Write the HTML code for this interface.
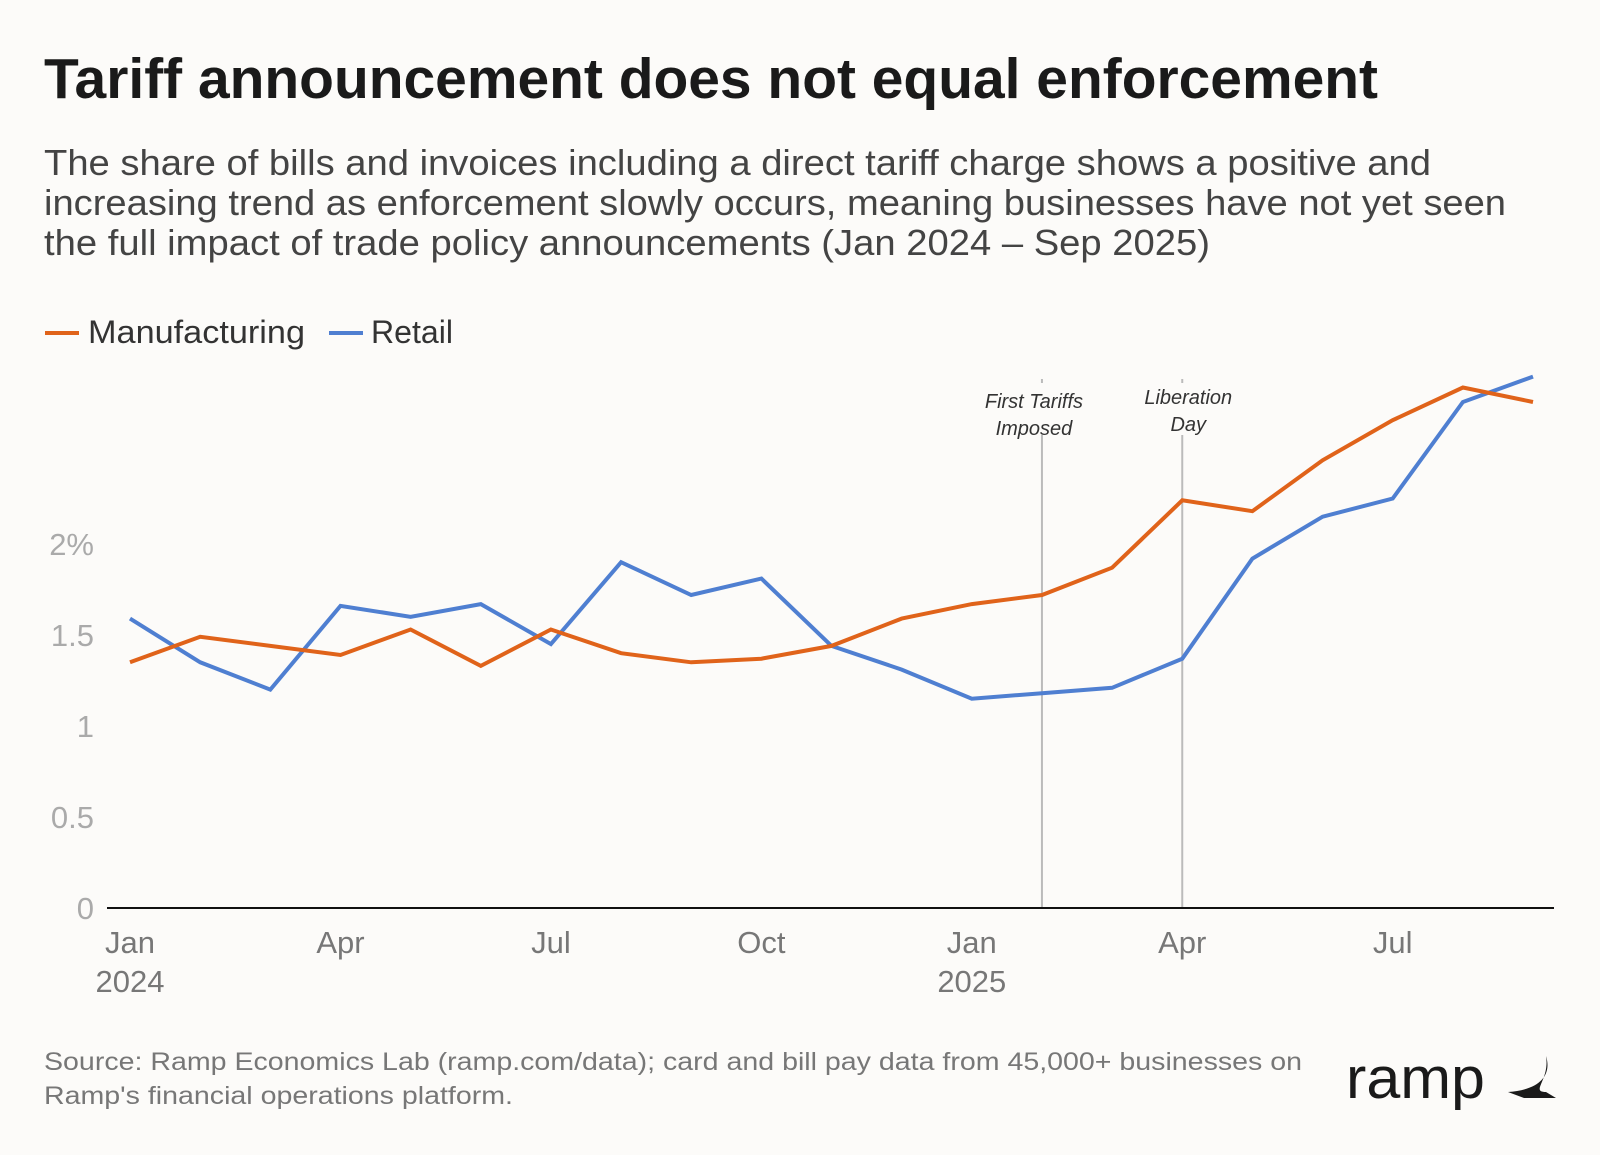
<!DOCTYPE html>
<html><head><meta charset="utf-8">
<style>
html,body{margin:0;padding:0;background:#fcfbf9;}
svg{display:block;font-family:"Liberation Sans",sans-serif;}
</style></head>
<body>
<svg id="chart" width="1600" height="1155" viewBox="0 0 1600 1155" xmlns="http://www.w3.org/2000/svg">
<rect width="1600" height="1155" fill="#fcfbf9"/>
<text x="44" y="98" font-size="57" font-weight="bold" fill="#1a1a1a" textLength="1334" lengthAdjust="spacingAndGlyphs">Tariff announcement does not equal enforcement</text>
<g font-size="36" fill="#444">
<text x="44" y="175" textLength="1387" lengthAdjust="spacingAndGlyphs">The share of bills and invoices including a direct tariff charge shows a positive and</text>
<text x="44" y="215" textLength="1462" lengthAdjust="spacingAndGlyphs">increasing trend as enforcement slowly occurs, meaning businesses have not yet seen</text>
<text x="44" y="255" textLength="1166" lengthAdjust="spacingAndGlyphs">the full impact of trade policy announcements (Jan 2024 – Sep 2025)</text>
</g>
<g>
<line x1="45" y1="333" x2="79" y2="333" stroke="#e0631a" stroke-width="4"/>
<text x="88" y="343" font-size="32" fill="#333" textLength="217" lengthAdjust="spacingAndGlyphs">Manufacturing</text>
<line x1="329" y1="333" x2="363" y2="333" stroke="#4f7fd1" stroke-width="4"/>
<text x="371" y="343" font-size="32" fill="#333" textLength="82" lengthAdjust="spacingAndGlyphs">Retail</text>
</g>
<g id="plot"></g>
<g font-size="25" fill="#777">
<text x="44" y="1070" textLength="1258" lengthAdjust="spacingAndGlyphs">Source: Ramp Economics Lab (ramp.com/data); card and bill pay data from 45,000+ businesses on</text>
<text x="44" y="1104" textLength="469" lengthAdjust="spacingAndGlyphs">Ramp's financial operations platform.</text>
</g>
<g>
<text x="1346" y="1098" font-size="58" fill="#1a1a1a" textLength="139" lengthAdjust="spacingAndGlyphs">ramp</text>
<path d="M1546 1056 C1552 1075 1540 1090 1508 1092 L1524 1098 L1556 1098 L1546 1092 C1530 1092 1550 1080 1546 1056 Z" fill="#1a1a1a"/>
</g>
</svg>
<script>
const months = ["Jan","Feb","Mar","Apr","May","Jun","Jul","Aug","Sep","Oct","Nov","Dec","Jan","Feb","Mar","Apr","May","Jun","Jul","Aug","Sep"];
const manufacturing = [1.35,1.49,1.44,1.39,1.53,1.33,1.53,1.40,1.35,1.37,1.44,1.59,1.67,1.72,1.87,2.24,2.18,2.46,2.68,2.86,2.78];
const retail = [1.59,1.35,1.20,1.66,1.60,1.67,1.45,1.90,1.72,1.81,1.44,1.31,1.15,1.18,1.21,1.37,1.92,2.15,2.25,2.78,2.92];
const yTicks = [0,0.5,1,1.5,2];
const yTickLabels = ["0","0.5","1","1.5","2%"];
const xTickIdx = [0,3,6,9,12,15,18];
const xTickLabels = ["Jan","Apr","Jul","Oct","Jan","Apr","Jul"];
const xYearLabels = ["2024","","","","2025","",""];
const eventIdx = [13,15];
const eventLines1 = ["First Tariffs","Liberation"];
const eventLines2 = ["Imposed","Day"];

const NS="http://www.w3.org/2000/svg";
const plot=document.getElementById('plot');
function x(i){return 130+i*70.15;}
function y(v){return 908-v*182;}
function mk(tag,attrs){const e=document.createElementNS(NS,tag);for(const k in attrs)e.setAttribute(k,attrs[k]);plot.appendChild(e);return e;}

yTicks.forEach((v,k)=>{
  const t=mk('text',{x:94,y:y(v)+11,'font-size':31,fill:'#aaa','text-anchor':'end'});
  t.textContent=yTickLabels[k];
  
  
});
eventIdx.forEach((i,k)=>{
  const l=mk('line',{x1:x(i),y1:y(0),x2:x(i),y2:379,stroke:'#bbb','stroke-width':2});
  
  
  const bg=mk('rect',{x:x(i)-52,y:383,width:104,height:52,fill:'#fcfbf9'});
  
  
  const cx = k===0 ? x(i)-8 : x(i)+6;
  const y1 = k===0 ? 408 : 404;
  const t1=mk('text',{x:cx,y:y1,'font-size':20,'font-style':'italic',fill:'#333','text-anchor':'middle'});
  t1.textContent=eventLines1[k];
  
  
  const t2=mk('text',{x:cx,y:y1+27,'font-size':20,'font-style':'italic',fill:'#333','text-anchor':'middle'});
  t2.textContent=eventLines2[k];
  
  
});
const ax=mk('line',{x1:107,y1:y(0),x2:1554,y2:y(0),stroke:'#111','stroke-width':2});


xTickIdx.forEach((i,k)=>{
  const t=mk('text',{x:x(i),y:953,'font-size':31,fill:'#777','text-anchor':'middle'});
  t.textContent=xTickLabels[k];
  
  
  if(xYearLabels[k]){
    const t2=mk('text',{x:x(i),y:992,'font-size':31,fill:'#777','text-anchor':'middle'});
    t2.textContent=xYearLabels[k];
    
    
  }
});
function series(vals,color,name){
  const d=vals.map((v,i)=>(i?'L':'M')+x(i).toFixed(1)+' '+y(v).toFixed(1)).join(' ');
  const p=mk('path',{d:d,fill:'none',stroke:color,'stroke-width':4,'stroke-linejoin':'miter'});
  
  
}
series(retail,'#4f7fd1','retail-line');
series(manufacturing,'#e0631a','manufacturing-line');
</script>
</body></html>
